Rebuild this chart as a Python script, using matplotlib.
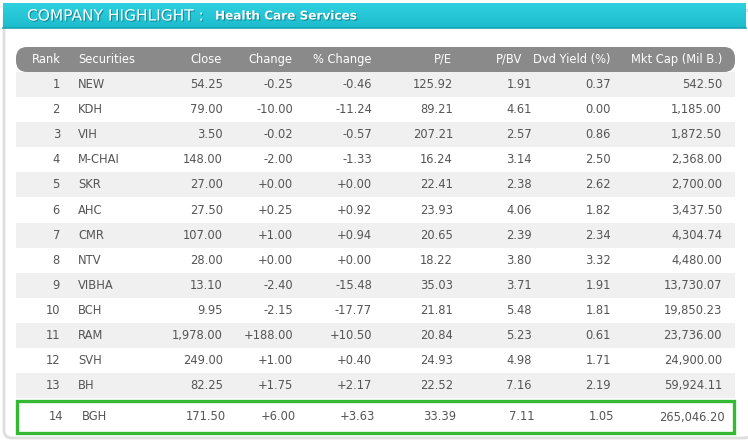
import numpy as np
import matplotlib.pyplot as plt
from matplotlib.patches import FancyBboxPatch, Rectangle
from matplotlib.colors import LinearSegmentedColormap
import matplotlib.patheffects as pe

ranks = [1, 2, 3, 4, 5, 6, 7, 8, 9, 10, 11, 12, 13, 14]
securities = ['NEW', 'KDH', 'VIH', 'M-CHAI', 'SKR', 'AHC', 'CMR', 'NTV', 'VIBHA',
              'BCH', 'RAM', 'SVH', 'BH', 'BGH']
close = ['54.25', '79.00', '3.50', '148.00', '27.00', '27.50', '107.00', '28.00',
         '13.10', '9.95', '1,978.00', '249.00', '82.25', '171.50']
change = ['-0.25', '-10.00', '-0.02', '-2.00', '+0.00', '+0.25', '+1.00', '+0.00',
          '-2.40', '-2.15', '+188.00', '+1.00', '+1.75', '+6.00']
pct_change = ['-0.46', '-11.24', '-0.57', '-1.33', '+0.00', '+0.92', '+0.94', '+0.00',
              '-15.48', '-17.77', '+10.50', '+0.40', '+2.17', '+3.63']
pe_ratio = ['125.92', '89.21', '207.21', '16.24', '22.41', '23.93', '20.65', '18.22',
            '35.03', '21.81', '20.84', '24.93', '22.52', '33.39']
pbv = ['1.91', '4.61', '2.57', '3.14', '2.38', '4.06', '2.39', '3.80', '3.71',
       '5.48', '5.23', '4.98', '7.16', '7.11']
dvd_yield = ['0.37', '0.00', '0.86', '2.50', '2.62', '1.82', '2.34', '3.32', '1.91',
             '1.81', '0.61', '1.71', '2.19', '1.05']
mkt_cap = ['542.50', '1,185.00', '1,872.50', '2,368.00', '2,700.00', '3,437.50',
           '4,304.74', '4,480.00', '13,730.07', '19,850.23', '23,736.00', '24,900.00',
           '59,924.11', '265,046.20']

headers = ['Rank', 'Securities', 'Close', 'Change', '% Change', 'P/E', 'P/BV',
           'Dvd Yield (%)', 'Mkt Cap (Mil B.)']

W, H = 748, 442
fig = plt.figure(figsize=(W / 100, H / 100), dpi=100)
ax = fig.add_axes([0, 0, 1, 1])
ax.set_xlim(0, W)
ax.set_ylim(H, 0)
ax.axis('off')

txt = '#555555'
fs = 8.3

# outer frame (right side runs off the picture)
ax.add_patch(FancyBboxPatch((4, 10), W, H - 14, boxstyle='round,pad=0,rounding_size=8',
                            fc='white', ec='#dedede', lw=2, zorder=0))

# title banner with vertical gradient
grad = np.linspace(0, 1, 50).reshape(-1, 1)
cmap = LinearSegmentedColormap.from_list('b', ['#2fd0e0', '#1cbccd'])
ax.imshow(grad, extent=(3, W - 2, 28, 3), cmap=cmap, aspect='auto', zorder=1)
ax.plot([3, W - 2], [28, 28], color='#17a2b1', lw=1.2, zorder=2)
shadow = [pe.withSimplePatchShadow(offset=(0.8, -0.8), shadow_rgbFace='#0b7f8c', alpha=0.8)]
ax.text(27, 16, 'COMPANY HIGHLIGHT :', color='white', fontsize=11.1, va='center',
        ha='left', zorder=3, path_effects=shadow)
ax.text(215, 16, 'Health Care Services', color='white', fontsize=8.7, fontweight='bold',
        va='center', ha='left', zorder=3, path_effects=shadow)

# header bar
ax.add_patch(FancyBboxPatch((16, 47), 719, 25, boxstyle='round,pad=0,rounding_size=11',
                            fc='#8a8a8a', ec='none', zorder=1))
hy = 59.5
hdr = dict(color='white', fontsize=fs, va='center', zorder=3)
ax.text(46, hy, headers[0], ha='center', **hdr)
ax.text(78, hy, headers[1], ha='left', **hdr)
ax.text(222, hy, headers[2], ha='right', **hdr)
ax.text(292, hy, headers[3], ha='right', **hdr)
ax.text(372, hy, headers[4], ha='right', **hdr)
ax.text(452, hy, headers[5], ha='right', **hdr)
ax.text(522, hy, headers[6], ha='right', **hdr)
ax.text(611, hy, headers[7], ha='right', **hdr)
ax.text(722, hy, headers[8], ha='right', **hdr)

# column anchors: x position and alignment
cols = [(60, 'right'), (78, 'left'), (223, 'right'), (293, 'right'), (372, 'right'),
        (453, 'right'), (532, 'right'), (611, 'right'), (722, 'right')]

row_h = 25.1
top = 72
for i in range(len(ranks)):
    values = [str(ranks[i]), securities[i], close[i], change[i], pct_change[i],
              pe_ratio[i], pbv[i], dvd_yield[i], mkt_cap[i]]
    if i < 13:
        y0 = top + i * row_h
        yc = y0 + row_h / 2
        dx = 0
        if i % 2 == 0:
            ax.add_patch(Rectangle((16, y0), 719, row_h, fc='#f0f0f0', ec='none', zorder=1))
    else:
        yc = 417
        dx = 3
        ax.add_patch(Rectangle((17, 400.5), 717, 32.5, fc='white', ec='#35b935', lw=2.4, zorder=2))
    for (x, ha), v in zip(cols, values):
        off = dx + (1 if ha == 'left' and dx else 0)
        ax.text(x + off, yc, v, color=txt, fontsize=fs, ha=ha, va='center', zorder=3)

fig.savefig('out.png', dpi=100)
